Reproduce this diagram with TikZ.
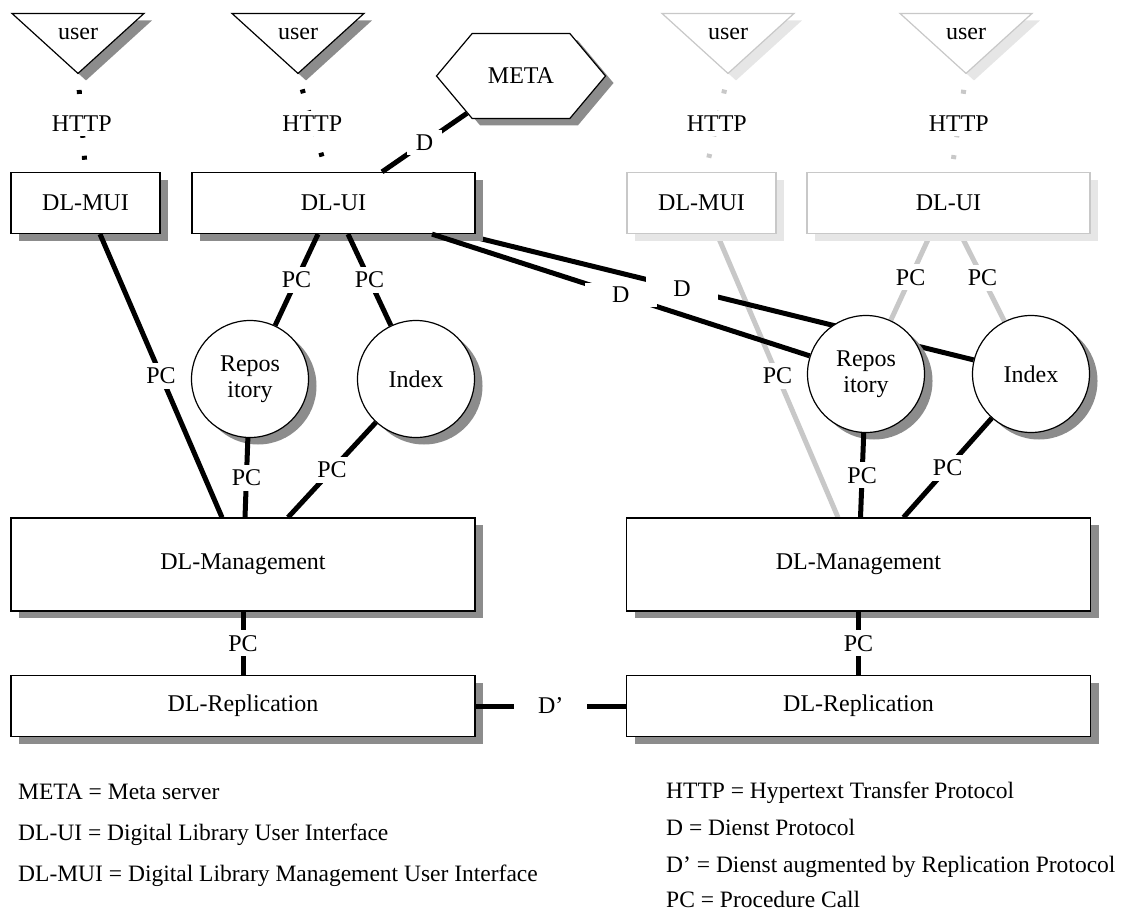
\documentclass[tikz,border=0pt]{standalone}
\usepackage{fontspec}
\setmainfont{Liberation Serif}
\usetikzlibrary{shapes.geometric, shapes.symbols, shadows, backgrounds}

\definecolor{shadowgrey}{RGB}{140,140,140}
\definecolor{fadeline}{RGB}{200,200,200}
\definecolor{fadeshadow}{RGB}{230,230,230}

\tikzset{
  every node/.style={font=\fontsize{24}{26}\selectfont},
  darkshadow/.style={drop shadow={shadow xshift=8pt, shadow yshift=-7pt, fill=shadowgrey, opacity=1}},
  lightshadow/.style={drop shadow={shadow xshift=8pt, shadow yshift=-7pt, fill=fadeshadow, opacity=1}},
  unit/.style={draw, fill=white, line width=1.2pt, inner sep=0pt},
  box/.style={unit, darkshadow, minimum height=61pt},
  fadebox/.style={unit, lightshadow, draw=fadeline, minimum height=61pt},
  store/.style={unit, darkshadow, circle, minimum size=117pt, align=center},
  userlbl/.style={anchor=center, yshift=-21pt},
  tribase/.style={unit, isosceles triangle, shape border rotate=-90, isosceles triangle stretches,
    minimum width=132pt, minimum height=60pt, anchor=apex, label={[userlbl]90:user}},
  usertri/.style={tribase, darkshadow},
  fadetri/.style={tribase, lightshadow, draw=fadeline},
  meta/.style={unit, darkshadow, signal, signal to=east and west, signal pointer angle=100,
    minimum width=169pt, minimum height=85pt},
  link/.style={line width=5pt},
  fadelink/.style={link, draw=fadeline},
  http/.style={line width=5pt, dash pattern=on 4pt off 18pt, shorten <=15pt},
  fadehttp/.style={http, draw=fadeline},
  lbl/.style={fill=white, inner sep=5pt},
  dlbl/.style={fill=white, inner xsep=27pt, inner ysep=4pt},
  legend/.style={anchor=base west, inner sep=0pt, font=\fontsize{23.5}{26}\selectfont},
}

\begin{document}
\begin{tikzpicture}[x=1pt, y=-1pt]
\useasboundingbox (0,0) rectangle (1123,912);

\node[usertri] (usr1) at (78,75) {};
\node[usertri] (usr2) at (298,75) {};
\node[fadetri] (usr3) at (728,75) {};
\node[fadetri] (usr4) at (966,75) {};

\node[meta] (meta) at (521,76) {META};

\node[box, minimum width=149pt] (mui1) at (85.5,203) {DL-MUI};
\node[box, minimum width=283pt] (ui1) at (333.5,203) {DL-UI};
\node[fadebox, minimum width=149pt] (mui2) at (701.5,203) {DL-MUI};
\node[fadebox, minimum width=283pt] (ui2) at (948.5,203) {DL-UI};

\node[store] (rep1) at (250,379) {Repos\\itory};
\node[store] (idx1) at (416,379) {Index};
\node[store] (rep2) at (866,374) {Repos\\itory};
\node[store] (idx2) at (1031,374) {Index};

\node[box, minimum width=464pt, minimum height=93pt] (mgmt1) at (243,564.5) {DL-Management};
\node[box, minimum width=464pt] (repl1) at (243,706) {DL-Replication};
\node[box, minimum width=464pt, minimum height=93pt] (mgmt2) at (858.5,564.5) {DL-Management};
\node[box, minimum width=464pt] (repl2) at (858.5,706) {DL-Replication};

\begin{pgfonlayer}{background}
\draw[fadehttp] (usr3.apex) -- ([xshift=4pt]mui2.north) node[lbl, midway] {HTTP};
\draw[fadehttp] (usr4.apex) -- ([xshift=3pt]ui2.north) node[lbl, midway] {HTTP};
\draw[fadelink] ([xshift=15.5pt]mui2.south) -- ([xshift=-20.5pt]mgmt2.north) node[lbl, midway] {PC};
\draw[fadelink] ([xshift=-18pt]ui2.south) -- (rep2) node[lbl, midway] {PC};
\draw[fadelink] ([xshift=12pt]ui2.south) -- (idx2) node[lbl, midway] {PC};
\draw[link] ([xshift=128.5pt]ui1.south) -- (idx2) node[dlbl, pos=0.43] {D};
\end{pgfonlayer}

\draw[http] (usr1.apex) -- (mui1.north) node[lbl, midway] {HTTP};
\draw[http] (usr2.apex) -- ([xshift=-7pt]ui1.north) node[lbl, midway] {HTTP};
\draw[link] ([xshift=48.5pt]ui1.north) -- (meta) node[lbl, inner xsep=9pt, midway] {D};

\draw[link] ([xshift=14.5pt]mui1.south) -- ([xshift=-21pt]mgmt1.north) node[lbl, midway] {PC};
\draw[link] ([xshift=-15.5pt]ui1.south) -- (rep1) node[lbl, midway] {PC};
\draw[link] ([xshift=14.5pt]ui1.south) -- (idx1) node[lbl, midway] {PC};
\draw[link] (rep1) -- ([xshift=2pt]mgmt1.north) node[lbl, midway] {PC};
\draw[link] (idx1) -- ([xshift=45pt]mgmt1.north) node[lbl, midway] {PC};
\draw[link] (mgmt1) -- (repl1) node[lbl, midway] {PC};

\draw[link] ([xshift=98.5pt]ui1.south) -- (rep2) node[dlbl, midway] {D};

\draw[link] (rep2) -- ([xshift=2pt]mgmt2.north) node[lbl, midway] {PC};
\draw[link] (idx2) -- ([xshift=45pt]mgmt2.north) node[lbl, midway] {PC};
\draw[link] (mgmt2) -- (repl2) node[lbl, midway] {PC};

\draw[link] (repl1) -- (repl2) node[dlbl, inner xsep=24pt, midway] {D'};

\node[legend] (legmeta) at (18,799) {META = Meta server};
\node[legend] (legui) at (18,840) {DL-UI = Digital Library User Interface};
\node[legend] (legmui) at (18,881) {DL-MUI = Digital Library Management User Interface};
\node[legend] (leghttp) at (666,798) {HTTP = Hypertext Transfer Protocol};
\node[legend] (legd) at (666,835) {D = Dienst Protocol};
\node[legend] (legdp) at (666,872) {D' = Dienst augmented by Replication Protocol};
\node[legend] (legpc) at (666,907) {PC = Procedure Call};

\end{tikzpicture}
\end{document}
